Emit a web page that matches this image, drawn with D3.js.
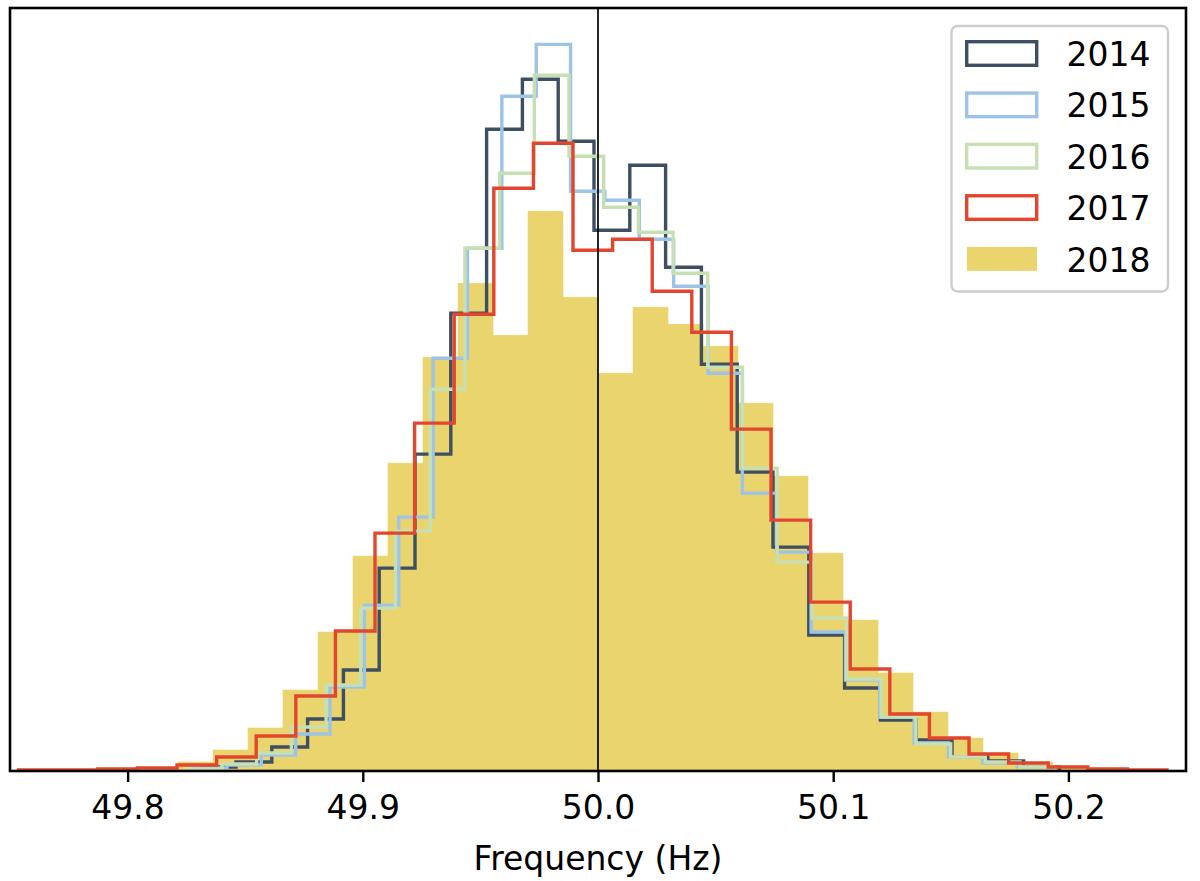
<!DOCTYPE html>
<html>
<head>
<meta charset="utf-8">
<script src="https://cdn.jsdelivr.net/npm/d3@7"></script>
<style>
  html, body { margin: 0; padding: 0; background: #fff; }
  svg { display: block; font-family: "DejaVu Sans", sans-serif; }
</style>
</head>
<body>
<svg id="chart" width="1200" height="881"></svg>
<script>
// ---- data (relative frequency per bin) ----
const years = ["2014", "2015", "2016", "2017", "2018"];
const colors = ["#3e4f62", "#9dc3e6", "#c6e0b4", "#e2462e", "#ead46e"];

// each year's histogram: first bin edge (Hz), bin width (Hz), bin heights
const binStart = [49.83087, 49.82764, 49.82538, 49.75366, 49.82143];
const binWidth = [0.015221, 0.014609, 0.014753, 0.016837, 0.014881];

const values2014 = [4, 9, 24, 52, 101, 203, 317, 458, 642, 692, 630, 541, 606, 504, 407, 299, 224, 136, 83, 51, 31, 14, 10, 4];
const values2015 = [3, 6, 16, 37, 84, 166, 254, 413, 523, 675, 727, 580, 571, 532, 485, 398, 278, 219, 139, 91, 54, 28, 14, 8, 4];
const values2016 = [2, 7, 18, 44, 86, 163, 240, 382, 523, 598, 696, 615, 564, 539, 498, 404, 303, 209, 153, 92, 54, 27, 14, 9, 4];
const values2017 = [1, 1, 2, 3, 6, 14, 35, 75, 140, 238, 348, 457, 583, 628, 521, 532, 480, 439, 342, 251, 169, 102, 57, 33, 17, 8, 4, 2, 1];
const values2018 = [9, 21, 43, 81, 139, 215, 308, 414, 488, 436, 560, 474, 398, 464, 447, 425, 368, 295, 218, 151, 98, 59, 33, 18, 9, 3];
const seriesValues = [values2014, values2015, values2016, values2017, values2018];

const xTicks = [49.8, 49.9, 50.0, 50.1, 50.2];
const xTickLabels = ["49.8", "49.9", "50.0", "50.1", "50.2"];
const xDomain = [49.75, 50.25];
const xLabel = "Frequency (Hz)";

// ---- layout ----
const svg = d3.select("#chart");
const pLeft = 10, pRight = 1186, pTop = 8, pBottom = 771;

const x = d3.scaleLinear().domain(xDomain).range([pLeft, pRight]);
const yMax = d3.max(seriesValues, v => d3.max(v)) * 1.05;
const y = d3.scaleLinear().domain([0, yMax]).range([pBottom, pTop]);

svg.append("defs").append("clipPath").attr("id", "plotclip")
  .append("rect").attr("x", pLeft).attr("y", pTop)
  .attr("width", pRight - pLeft).attr("height", pBottom - pTop);

const plot = svg.append("g").attr("clip-path", "url(#plotclip)");

function bins(i) {
  return seriesValues[i].map((v, k) => ({
    x0: binStart[i] + k * binWidth[i],
    x1: binStart[i] + (k + 1) * binWidth[i],
    v: v
  }));
}

// 2018: filled bars
const b18 = bins(4);
plot.append("g").selectAll("rect").data(b18).join("rect")
  .attr("x", d => x(d.x0))
  .attr("width", d => x(d.x1) - x(d.x0))
  .attr("y", d => y(d.v))
  .attr("height", d => y(0) - y(d.v))
  .attr("fill", colors[4])
  .attr("stroke", colors[4])
  .attr("stroke-width", 0.6);

// 2014-2017: step outlines
const line = d3.line().x(d => x(d[0])).y(d => y(d[1]));
for (let i = 0; i < 4; i++) {
  const b = bins(i);
  const pts = [[b[0].x0, 0]];
  b.forEach(d => { pts.push([d.x0, d.v]); pts.push([d.x1, d.v]); });
  pts.push([b[b.length - 1].x1, 0]);
  plot.append("path")
    .attr("d", line(pts))
    .attr("fill", "none")
    .attr("stroke", colors[i])
    .attr("stroke-width", 3.4)
    .attr("stroke-linejoin", "miter");
}

// vertical line at 50 Hz
svg.append("line")
  .attr("x1", x(50)).attr("x2", x(50))
  .attr("y1", pTop).attr("y2", pBottom)
  .attr("stroke", "#000").attr("stroke-width", 1.7);

// frame
svg.append("rect")
  .attr("x", pLeft).attr("y", pTop)
  .attr("width", pRight - pLeft).attr("height", pBottom - pTop)
  .attr("fill", "none").attr("stroke", "#000").attr("stroke-width", 2.6);

// x axis
const xAxis = d3.axisBottom(x)
  .tickValues(xTicks)
  .tickFormat((d, i) => xTickLabels[i])
  .tickSize(11)
  .tickPadding(14);
const gx = svg.append("g").attr("transform", `translate(0,${pBottom})`).call(xAxis);
gx.select(".domain").remove();
gx.selectAll(".tick line").attr("stroke", "#000").attr("stroke-width", 2.4);
gx.selectAll(".tick text")
  .attr("fill", "#000")
  .attr("font-family", "DejaVu Sans")
  .attr("font-size", 33);

svg.append("text")
  .attr("x", (pLeft + pRight) / 2)
  .attr("y", 870)
  .attr("text-anchor", "middle")
  .attr("font-size", 33)
  .attr("fill", "#000")
  .text(xLabel);

// legend
const lg = svg.append("g");
lg.append("rect")
  .attr("x", 951.5).attr("y", 26)
  .attr("width", 216.5).attr("height", 265.5)
  .attr("rx", 6).attr("ry", 6)
  .attr("fill", "#fff").attr("fill-opacity", 0.85)
  .attr("stroke", "#cccccc").attr("stroke-width", 2.4);

years.forEach((yr, i) => {
  const cy = 53.5 + i * 51.35;
  if (i < 4) {
    lg.append("rect")
      .attr("x", 966.7).attr("y", cy - 11.8)
      .attr("width", 70).attr("height", 23.6)
      .attr("fill", "none")
      .attr("stroke", colors[i]).attr("stroke-width", 3.4);
  } else {
    lg.append("rect")
      .attr("x", 967).attr("y", cy - 12)
      .attr("width", 70).attr("height", 24)
      .attr("fill", colors[i]);
  }
  lg.append("text")
    .attr("x", 1066.5)
    .attr("y", cy + 12.6)
    .attr("font-size", 33)
    .attr("fill", "#000")
    .text(yr);
});
</script>
</body>
</html>
